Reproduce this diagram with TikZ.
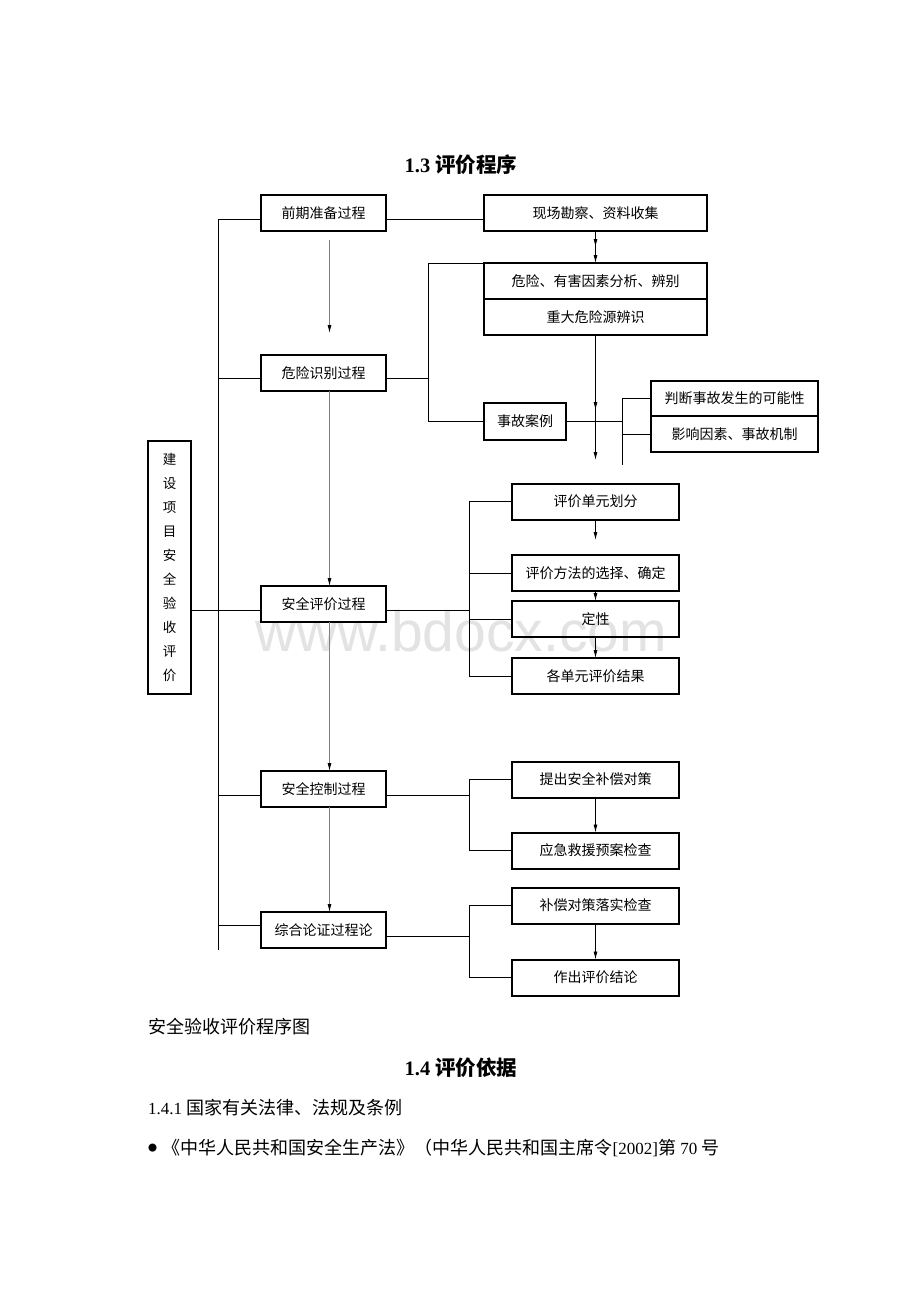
\documentclass[tikz,border=0pt]{standalone}
\usepackage{fontspec}
\setmainfont{Liberation Serif}
\newfontfamily\cjk{Noto Sans CJK SC}
\newfontfamily\zhbody[Scale=1.06]{Noto Sans CJK SC}
\newfontfamily\wmfont{Liberation Sans}
\usepackage{tikz}
\usetikzlibrary{arrows.meta,positioning,decorations.markings}

\begin{document}
\begin{tikzpicture}[x=1pt,y=-1pt,>={Latex[length=8pt,width=4pt]},
    box/.style={draw,line width=2pt,inner sep=0pt,outer sep=0pt,minimum height=36pt,font=\cjk\fontsize{14}{16}\selectfont},
    lbox/.style={box,minimum width=125pt},
    rbox/.style={box,minimum width=167pt},
    wbox/.style={box,minimum width=223pt},
    link/.style={line width=0.8pt},
    flow/.style={link,black!50,-{Latex[length=8pt,width=4pt,color=black]}},
    txt/.style={inner sep=0pt,anchor=west,font=\fontsize{17}{20}\selectfont},
    head/.style={inner sep=0pt,font=\bfseries\fontsize{20.5}{24}\selectfont},
    midarrow/.style={postaction={decorate},decoration={markings,mark=at position #1 with {\arrow{>}}}}]

    \fill[white] (0,0) rectangle (920,1302);
    \useasboundingbox (0,0) rectangle (920,1302);

    \node[text=black!11,font=\wmfont\fontsize{57}{60}\selectfont] (wm) at (461,631) {www.bdocx.com};

    \node[head] (head1) at (461,165) {1.3 {\cjk 评价程序}};

    \node[box,minimum width=43pt,minimum height=253pt,align=center,font=\cjk\fontsize{13.5}{24}\selectfont] (proj) at (169.5,567.5) {建\\设\\项\\目\\安\\全\\验\\收\\评\\价};

    \node[lbox] (prep) at (323.5,213) {前期准备过程};
    \node[wbox] (site) at (595.5,213) {现场勘察、资料收集};
    \node[lbox] (ident) at (323.5,373) {危险识别过程};
    \node[wbox] (haz) at (595.5,281) {危险、有害因素分析、辨别};
    \node[wbox,below=0pt of haz] (major) {重大危险源辨识};
    \node[box,minimum width=82pt,minimum height=37pt] (acc) at (525,421.5) {事故案例};
    \node[rbox,minimum height=35pt] (judge) at (734.5,398.5) {判断事故发生的可能性};
    \node[rbox,below=0pt of judge] (infl) {影响因素、事故机制};

    \node[lbox] (evalp) at (323.5,604) {安全评价过程};
    \node[rbox] (unit) at (595.5,501.5) {评价单元划分};
    \node[rbox] (meth) at (595.5,573) {评价方法的选择、确定};
    \node[rbox,below=10pt of meth] (qual) {定性};
    \node[rbox] (res) at (595.5,676) {各单元评价结果};

    \node[lbox] (ctrl) at (323.5,789) {安全控制过程};
    \node[rbox] (meas) at (595.5,779.5) {提出安全补偿对策};
    \node[rbox,below=35pt of meas] (emer) {应急救援预案检查};

    \node[lbox] (synth) at (323.5,930) {综合论证过程论};
    \node[rbox] (impl) at (595.5,905.5) {补偿对策落实检查};
    \node[rbox,below=36pt of impl] (concl) {作出评价结论};

    \coordinate (spine) at (218,950);
    \coordinate (brkA) at (428,0);
    \coordinate (brkB) at (622,465);
    \coordinate (brkC) at (469,0);
    \coordinate (hazEnd) at (596,460);
    \coordinate (unitEnd) at (596,540);

    \draw[link] ([yshift=-6pt]prep.west -| spine) -- (spine);
    \foreach \n/\s in {prep/-6,ident/-5,evalp/-6,ctrl/-6,synth/5}
        \draw[link] ([yshift=\s pt]\n.west -| spine) -- ([yshift=\s pt]\n.west);
    \draw[link] ([yshift=-6pt]proj.east |- evalp.west) -- ([yshift=-6pt]evalp.west -| spine);

    \draw[link] ([yshift=-6pt]prep.east) -- ([yshift=-6pt]site.west);
    \draw[link,->,midarrow=0.5] (site) -- (haz);
    \draw[flow,shorten <=9pt,shorten >=22pt] ([xshift=6pt]prep.south) -- ([xshift=6pt]ident.north);

    \draw[link] ([yshift=-5pt]ident.east) -- ([yshift=-5pt]ident.east -| brkA);
    \draw[link] (haz.north west) -| (brkA |- acc.west) -- (acc.west);
    \draw[link,->,midarrow=0.6] (major) -- (major.south |- hazEnd);
    \draw[link] (acc.east) -- (acc.east -| brkB);
    \draw[link] (judge.west) -| (brkB);
    \draw[link] (infl.west) -- (infl.west -| brkB);

    \draw[flow] ([xshift=6pt]ident.south) -- ([xshift=6pt]evalp.north);
    \draw[link] ([yshift=-6pt]evalp.east) -- ([yshift=-6pt]evalp.east -| brkC);
    \draw[link] (unit.west) -| (brkC |- res.west) -- (res.west);
    \draw[link] (meth.west -| brkC) -- (meth.west);
    \draw[link] (qual.west -| brkC) -- (qual.west);
    \draw[link,->] (unit) -- (unit.south |- unitEnd);
    \draw[link,->] (meth) -- (qual);
    \draw[link,->] (qual) -- (res);

    \draw[flow] ([xshift=6pt]evalp.south) -- ([xshift=6pt]ctrl.north);
    \draw[link] ([yshift=-6pt]ctrl.east) -- ([yshift=-6pt]ctrl.east -| brkC);
    \draw[link] (meas.west) -| (brkC |- emer.west) -- (emer.west);
    \draw[link,->] (meas) -- (emer);

    \draw[flow] ([xshift=6pt]ctrl.south) -- ([xshift=6pt]synth.north);
    \draw[link] ([yshift=-6pt]synth.east) -- ([yshift=-6pt]synth.east -| brkC);
    \draw[link] (impl.west) -| (brkC |- concl.west) -- (concl.west);
    \draw[link,->] (impl) -- (concl);

    \node[txt] (cap) at (148,1027) {\zhbody 安全验收评价程序图};
    \node[head] (head2) at (461,1068) {1.4 {\cjk 评价依据}};
    \node[txt] (sub) at (148,1108) {1.4.1 {\zhbody 国家有关法律、法规及条例}};
    \node[txt] (item) at (148,1148) {\raisebox{3pt}{\cjk\fontsize{9}{9}\selectfont ●}\hspace{5pt}{\zhbody 《中华人民共和国安全生产法》（中华人民共和国主席令}[2002]{\zhbody 第}~70~{\zhbody 号}};
\end{tikzpicture}
\end{document}
